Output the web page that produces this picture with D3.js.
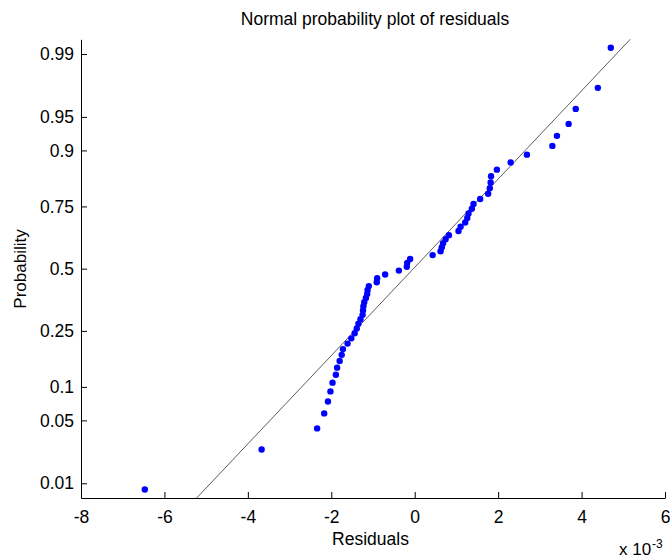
<!DOCTYPE html>
<html>
<head>
<meta charset="utf-8">
<script src="https://cdn.jsdelivr.net/npm/d3@7"></script>
<style>
  body { margin: 0; background: #fff; }
  text { font-family: "Liberation Sans", Arial, sans-serif; fill: #000; }
</style>
</head>
<body>
<div id="chart"></div>
<script>
// residuals (x 10^-3), sorted
const residuals = [-6.47, -3.67, -2.34, -2.17, -2.08, -2.02, -1.97, -1.89, -1.86, -1.80,
                   -1.75, -1.72, -1.61, -1.52, -1.44, -1.39, -1.35, -1.30, -1.25, -1.24,
                   -1.23, -1.21, -1.17, -1.14, -1.13, -1.10, -0.91, -0.90, -0.71, -0.38,
                   -0.19, -0.18, -0.11, 0.43, 0.62, 0.65, 0.68, 0.74, 0.82, 1.05,
                   1.10, 1.21, 1.26, 1.29, 1.37, 1.41, 1.57, 1.76, 1.80, 1.82,
                   1.83, 1.97, 2.30, 2.69, 3.30, 3.41, 3.69, 3.86, 4.39, 4.70];

// quartiles used by the reference line
const lineQuartiles = [-1.44, 1.38];

const xTicks = [-8, -6, -4, -2, 0, 2, 4, 6];
const probTicks = [0.01, 0.05, 0.1, 0.25, 0.5, 0.75, 0.9, 0.95, 0.99];
const probLabels = ['0.01', '0.05', '0.1', '0.25', '0.5', '0.75', '0.9', '0.95', '0.99'];

const width = 670;
const height = 560;
const plotLeft = 81, plotRight = 665, plotTop = 39.3, plotBottom = 498;
const zMax = 2.486;

// inverse normal cdf (Acklam)
function norminv(p) {
     const a = [-3.969683028665376e+01, 2.209460984245205e+02, -2.759285104469687e+02,
                1.383577518672690e+02, -3.066479806614716e+01, 2.506628277459239e+00];
     const b = [-5.447609879822406e+01, 1.615858368580409e+02, -1.556989798598866e+02,
                6.680131188771972e+01, -1.328068155288572e+01];
     const c = [-7.784894002430293e-03, -3.223964580411365e-01, -2.400758277161838e+00,
                -2.549732539343734e+00, 4.374664141464968e+00, 2.938163982698783e+00];
     const d = [7.784695709041462e-03, 3.224671290700398e-01, 2.445134137142996e+00,
                3.754408661907416e+00];
     const pl = 0.02425;
     let q, r;
     if (p < pl) {
          q = Math.sqrt(-2 * Math.log(p));
          return (((((c[0]*q+c[1])*q+c[2])*q+c[3])*q+c[4])*q+c[5]) /
                 ((((d[0]*q+d[1])*q+d[2])*q+d[3])*q+1);
     }
     if (p > 1 - pl) {
          q = Math.sqrt(-2 * Math.log(1 - p));
          return -(((((c[0]*q+c[1])*q+c[2])*q+c[3])*q+c[4])*q+c[5]) /
                  ((((d[0]*q+d[1])*q+d[2])*q+d[3])*q+1);
     }
     q = p - 0.5;
     r = q * q;
     return (((((a[0]*r+a[1])*r+a[2])*r+a[3])*r+a[4])*r+a[5])*q /
            (((((b[0]*r+b[1])*r+b[2])*r+b[3])*r+b[4])*r+1);
}

const svg = d3.select('#chart').append('svg')
     .attr('width', width)
     .attr('height', height);

const xScale = d3.scaleLinear().domain([-8, 6]).range([plotLeft, plotRight]);
const yScale = d3.scaleLinear().domain([-zMax, zMax]).range([plotBottom, plotTop]);

const n = residuals.length;
const points = residuals.map((v, i) => ({x: v, z: norminv((i + 0.5) / n)}));

// reference line through the quartiles, extended to the y limits
const zq = norminv(0.75);
const slope = (lineQuartiles[1] - lineQuartiles[0]) / (2 * zq);
const mid = (lineQuartiles[0] + lineQuartiles[1]) / 2;
svg.append('line')
     .attr('x1', xScale(mid - zMax * slope))
     .attr('y1', yScale(-zMax))
     .attr('x2', xScale(mid + zMax * slope))
     .attr('y2', yScale(zMax))
     .attr('stroke', '#333')
     .attr('stroke-width', 0.8);

svg.append('g').selectAll('circle')
     .data(points)
     .enter()
     .append('circle')
          .attr('cx', d => xScale(d.x))
          .attr('cy', d => yScale(d.z))
          .attr('r', 3.2)
          .attr('fill', '#0000ff');

// y axis
const yAxis = svg.append('g')
     .attr('transform', `translate(${plotLeft},0)`)
     .call(d3.axisLeft(yScale)
          .tickValues(probTicks.map(norminv))
          .tickFormat((d, i) => probLabels[i])
          .tickSizeInner(-6)
          .tickSizeOuter(0)
          .tickPadding(7));

// x axis
const xAxis = svg.append('g')
     .attr('transform', `translate(0,${plotBottom})`)
     .call(d3.axisBottom(xScale)
          .tickValues(xTicks)
          .tickFormat(d => String(d))
          .tickSizeInner(-6)
          .tickSizeOuter(0)
          .tickPadding(13));

svg.selectAll('.tick text')
     .attr('font-family', '"Liberation Sans", Arial, sans-serif')
     .attr('font-size', '17.5px');
svg.selectAll('.domain, .tick line').attr('stroke', '#000');

// title and labels
svg.append('text')
     .attr('x', 375)
     .attr('y', 25)
     .attr('text-anchor', 'middle')
     .attr('font-size', '17.5px')
     .text('Normal probability plot of residuals');

svg.append('text')
     .attr('x', 370.5)
     .attr('y', 545)
     .attr('text-anchor', 'middle')
     .attr('font-size', '17.5px')
     .text('Residuals');

svg.append('text')
     .attr('transform', 'translate(25.5,269) rotate(-90)')
     .attr('text-anchor', 'middle')
     .attr('font-size', '17px')
     .text('Probability');

// exponent label
svg.append('text')
     .attr('x', 619)
     .attr('y', 555)
     .attr('font-size', '17px')
     .text('x 10');
svg.append('text')
     .attr('x', 652)
     .attr('y', 548)
     .attr('font-size', '12px')
     .text('-3');
</script>
</body>
</html>
